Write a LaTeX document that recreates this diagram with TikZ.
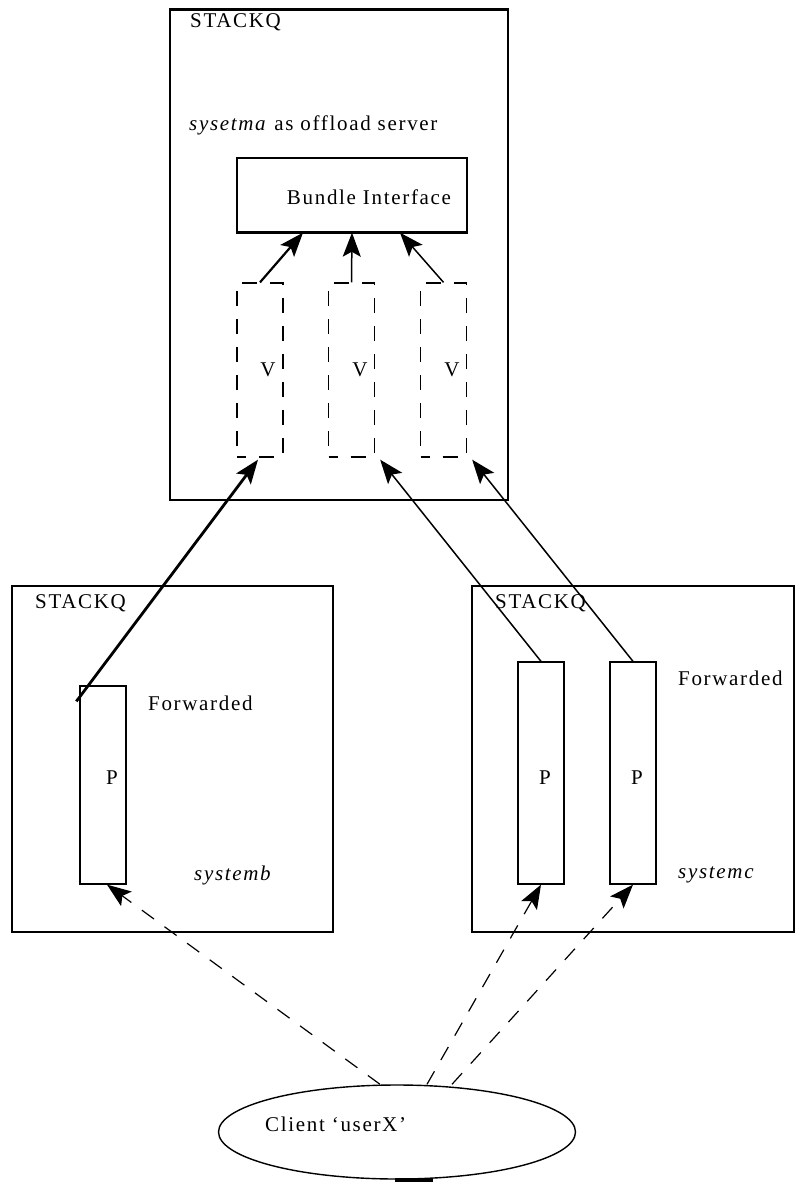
\documentclass[tikz,border=0pt]{standalone}
\usepackage{fontspec}
\setmainfont{Liberation Serif}[LetterSpace=8]
\usetikzlibrary{arrows.meta,shapes.geometric}
\begin{document}
\begin{tikzpicture}[x=1pt,y=-1pt,
  every node/.style={font=\fontsize{21}{24}\selectfont},
  box/.style={draw,line width=1.4pt,rectangle,inner sep=0pt},
  vbox/.style={draw,line width=1.3pt,rectangle,inner sep=0pt,minimum width=46pt,minimum height=174pt,dash pattern=on 15pt off 13pt,dash phase=6pt},
  pbox/.style={draw,line width=1.3pt,rectangle,inner sep=0pt,minimum width=46pt},
  lbl/.style={anchor=west,inner sep=0pt},
  tip/.style={-{Stealth[length=24pt,width=18pt,inset=5pt]}},
  solidarr/.style={tip,line width=1.5pt},
  thickarr/.style={tip,line width=2.8pt},
  dasharr/.style={tip,line width=1.2pt,dash pattern=on 15pt off 13pt}
]
\useasboundingbox (0,0) rectangle (795,1184);

% top box
\node[box,minimum width=338pt,minimum height=490pt] (top) at (339,255) {};
\draw[line width=3pt] (top.north west) -- (top.north east);
\node[lbl] (t1) at (190,22) {STACKQ};
\node[lbl] (t2) at (189,125) {\textit{sysetma} as offload server};
\node[box,minimum width=230pt,minimum height=74pt] (bundle) at (352,195) {};
\draw[line width=3pt] (bundle.south west) -- (bundle.south east);
\node (bl) at (369,197) {Bundle Interface};

\node[vbox] (v1) at (260,370) {};
\node[vbox] (v2) at (351.5,370) {};
\node[vbox] (v3) at (443.5,370) {};
\node (vl1) at (268,370) {V};
\node (vl2) at (360,370) {V};
\node (vl3) at (452,370) {V};

\draw[solidarr,line width=2.2pt] (v1.north) -- ([xshift=-49pt]bundle.south);
\draw[solidarr] (v2.north) -- (bundle.south);
\draw[solidarr] (v3.north) -- ([xshift=48pt]bundle.south);

% left box
\node[box,minimum width=321pt,minimum height=346pt] (lb) at (172.5,759) {};
\node[lbl] (l1) at (35,603) {STACKQ};
\node[pbox,minimum height=198pt] (pb) at (103,785) {};
\node (plb) at (112,778) {P};
\node[lbl] (l2) at (148,703) {Forwarded};
\node[lbl] (l3) at (194,875) {\textit{systemb}};

% right box
\node[box,minimum width=322pt,minimum height=346pt] (rb) at (633,759) {};
\node[lbl] (r1) at (495,603) {STACKQ};
\node[pbox,minimum height=222pt] (pc1) at (541,773) {};
\node[pbox,minimum height=222pt] (pc2) at (633,773) {};
\node (pl1) at (545,778) {P};
\node (pl2) at (637,778) {P};
\node[lbl] (r2) at (678,678) {Forwarded};
\node[lbl] (r3) at (678,875) {\textit{systemc}};

% arrows to V boxes
\draw[thickarr] ([shift={(-3pt,-16pt)}]pb.north west) -- ([xshift=-2pt,yshift=-2pt]v1.south);
\draw[solidarr] (pc1.north) -- ([xshift=5pt,yshift=-2pt]v2.south east);
\draw[solidarr] (pc2.north) -- ([xshift=5pt,yshift=-2pt]v3.south east);

% client
\node[draw,ellipse,line width=1.4pt,minimum width=357pt,minimum height=94pt,inner sep=0pt] (client) at (397,1132) {};
\node[lbl] (cl) at (265,1124) {Client `userX'};
\draw[line width=4pt] ([xshift=-2pt]client.south) -- ([xshift=36pt]client.south);

\draw[dasharr] ([xshift=-17pt]client.north) -- ([xshift=4pt]pb.south);
\draw[dasharr] ([xshift=30pt]client.north) -- (pc1.south);
\draw[dasharr] ([xshift=55pt]client.north) -- (pc2.south);
\end{tikzpicture}
\end{document}
